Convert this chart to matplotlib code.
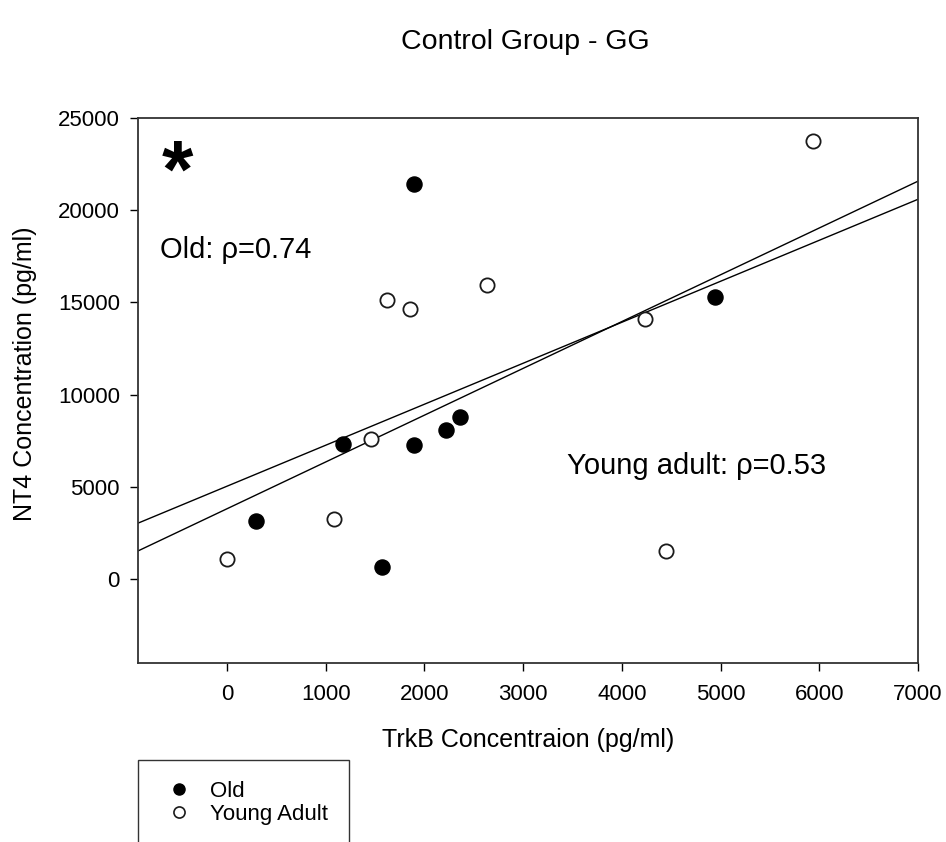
import numpy as np
import matplotlib
matplotlib.use("Agg")
import matplotlib.pyplot as plt
from matplotlib.patches import Rectangle
from matplotlib.lines import Line2D

plt.rcParams['font.family'] = ['Liberation Sans', 'DejaVu Sans']

# TrkB (x) and NT4 (y) concentrations, pg/ml
old_trkb = [294, 1172, 1571, 1898, 2219, 2361, 1895, 4944]
old_nt4 = [3124, 7337, 629, 7283, 8097, 8802, 21437, 15271]

young_trkb = [0, 1087, 1459, 1618, 1854, 2631, 4235, 4448, 5940]
young_nt4 = [1085, 3254, 7608, 15147, 14658, 15944, 14100, 1497, 23730]

x_ticks = [0, 1000, 2000, 3000, 4000, 5000, 6000, 7000]
y_ticks = [0, 5000, 10000, 15000, 20000, 25000]
x_limits = (-900, 7000)
y_limits = (-4550, 25000)

rho_old = 0.74
rho_young = 0.53

fig = plt.figure(figsize=(9.46, 8.42), dpi=100)
ax = fig.add_axes([138 / 946, 1 - 663 / 842, 780 / 946, 545 / 842])

ax.scatter(old_trkb, old_nt4, s=118, c='black', edgecolors='black',
           linewidths=1.0, zorder=3)
ax.scatter(young_trkb, young_nt4, s=105, c='white', edgecolors='#1a1a1a',
           linewidths=1.3, zorder=3)

# least-squares fit lines for each group, drawn across the full x range
xs = np.array(x_limits, dtype=float)
for gx, gy in ((old_trkb, old_nt4), (young_trkb, young_nt4)):
    slope, intercept = np.polyfit(gx, gy, 1)
    ax.plot(xs, slope * xs + intercept, color='black', lw=1.0, zorder=2)

ax.set_xlim(*x_limits)
ax.set_ylim(*y_limits)
ax.set_xticks(x_ticks)
ax.set_yticks(y_ticks)
ax.tick_params(direction='out', length=6, width=1.0, labelsize=16,
               colors='black')
ax.tick_params(axis='x', pad=9)
ax.tick_params(axis='y', pad=7)
for sp in ax.spines.values():
    sp.set_linewidth(1.3)
    sp.set_color('#333333')

ax.set_xlabel('TrkB Concentraion (pg/ml)', fontsize=18, labelpad=17)
ax.set_ylabel('NT4 Concentration (pg/ml)', fontsize=18)
ax.yaxis.set_label_coords(-0.1295, 0.530)

fig.text(525 / 946, 1 - 42 / 842, 'Control Group - GG', ha='center',
         va='center', fontsize=20.5)

ax.text(-500, 20740, '*', ha='center', va='baseline', fontsize=58,
        fontweight='bold')
ax.text(-680, 17850, f'Old: ρ={rho_old:.2f}', ha='left', va='center',
        fontsize=21)
ax.text(3440, 6150, f'Young adult: ρ={rho_young:.2f}', ha='left',
        va='center', fontsize=21)

# legend box below the plot, running off the bottom edge
fig.add_artist(Rectangle((138 / 946, -0.05), 211 / 946, (842 - 760) / 842 + 0.05,
                         transform=fig.transFigure, fill=False,
                         edgecolor='#333333', lw=1.0))
handles = [
    Line2D([], [], ls='none', marker='o', ms=8, mfc='black', mec='black'),
    Line2D([], [], ls='none', marker='o', ms=8, mfc='white', mec='#1a1a1a',
           mew=1.2),
]
fig.legend(handles, ['Old', 'Young Adult'], loc='upper left',
           bbox_to_anchor=(168 / 946, 1 - 781 / 842), frameon=False,
           fontsize=16, handlelength=1.0, handletextpad=0.9,
           labelspacing=0.1, borderpad=0, borderaxespad=0)

fig.savefig('out.png', dpi=100)
